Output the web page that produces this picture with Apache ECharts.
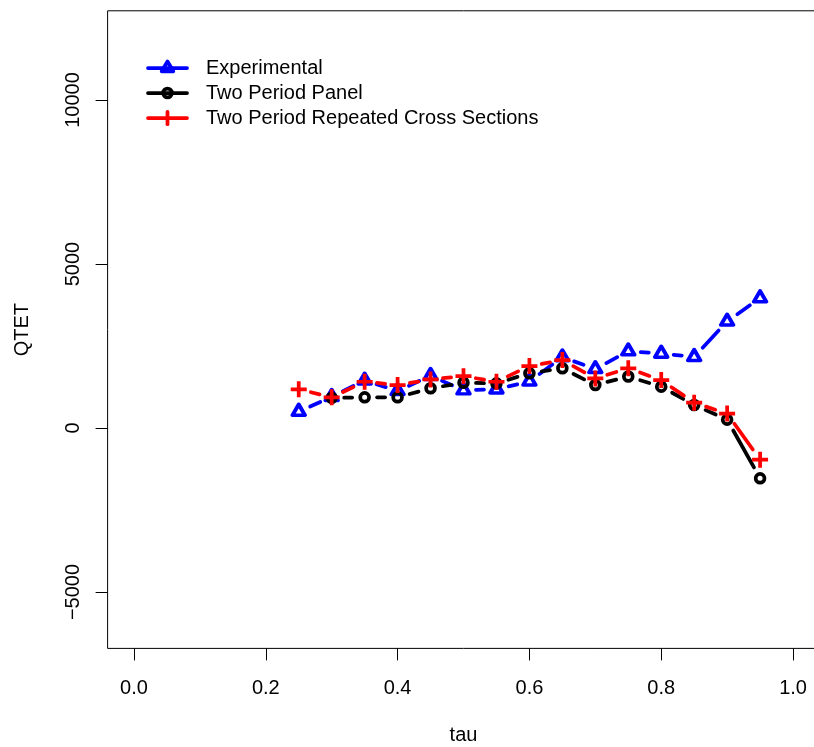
<!DOCTYPE html>
<html><head><meta charset="utf-8">
<script src="https://cdn.jsdelivr.net/npm/echarts@6/dist/echarts.min.js"></script>
<style>html,body{margin:0;padding:0;background:#fff;overflow:hidden}#c{width:830px;height:747px}</style>
</head><body><div id="c"></div>
<script>
// ---- data ----
const tau = [0.25, 0.30, 0.35, 0.40, 0.45, 0.50, 0.55, 0.60, 0.65, 0.70, 0.75, 0.80, 0.85, 0.90, 0.95];
const experimental = [500, 950, 1450, 1130, 1590, 1150, 1180, 1420, 2160, 1800, 2340, 2270, 2170, 3250, 3960];
const panel = [null, 920, 935, 935, 1210, 1380, 1360, 1670, 1820, 1310, 1570, 1260, 700, 255, -1535];
const rcs = [1180, 935, 1410, 1310, 1480, 1580, 1410, 1890, 2070, 1510, 1820, 1460, 770, 440, -965];
const xTicks = [0, 0.2, 0.4, 0.6, 0.8, 1.0];
const yTicks = [-5000, 0, 5000, 10000];
const seriesNames = ['Experimental', 'Two Period Panel', 'Two Period Repeated Cross Sections'];
const colors = ['#0000FF', '#000000', '#FF0000'];
const xTitle = 'tau';
const yTitle = 'QTET';

// ---- style ----
const FONT = 'Liberation Sans, Arial, Helvetica, sans-serif';
const LW = 3.75, GAP = 12.5;

function pairs(vals) { return tau.map((t, i) => [t, vals[i]]).filter(p => p[1] != null); }
function segments(vals) {
  const p = pairs(vals), s = [];
  for (let i = 0; i < p.length - 1; i++) s.push([p[i][0], p[i][1], p[i + 1][0], p[i + 1][1]]);
  return s;
}
function segSeries(vals, color) {
  return {
    type: 'custom', coordinateSystem: 'cartesian2d', silent: true,
    data: segments(vals), encode: { x: [0, 2], y: [1, 3] },
    renderItem: (params, api) => {
      const a = api.coord([api.value(0), api.value(1)]);
      const b = api.coord([api.value(2), api.value(3)]);
      const dx = b[0] - a[0], dy = b[1] - a[1], L = Math.hypot(dx, dy);
      if (L <= 2 * GAP) return null;
      const f = GAP / L;
      return {
        type: 'line',
        shape: { x1: a[0] + f * dx, y1: a[1] + f * dy, x2: b[0] - f * dx, y2: b[1] - f * dy },
        style: { stroke: color, lineWidth: LW, lineCap: 'round' }
      };
    }
  };
}
const PLUS = 'path://M-0.234,-1H0.234V1H-0.234Z M-1,-0.234H1V0.234H-1Z';

const series = [
  segSeries(experimental, colors[0]),
  { type: 'scatter', name: seriesNames[0], data: pairs(experimental), silent: true,
    symbol: 'triangle', symbolSize: [12.5, 10.8], symbolOffset: [0, -1.8],
    itemStyle: { color: 'transparent', borderColor: colors[0], borderWidth: LW, borderJoin: 'round', opacity: 1 } },
  segSeries(panel, colors[1]),
  { type: 'scatter', name: seriesNames[1], data: pairs(panel), silent: true,
    symbol: 'circle', symbolSize: 8.8,
    itemStyle: { color: 'transparent', borderColor: colors[1], borderWidth: LW, opacity: 1 } },
  segSeries(rcs, colors[2]),
  { type: 'scatter', name: seriesNames[2], data: pairs(rcs), silent: true,
    symbol: PLUS, symbolSize: 16,
    itemStyle: { color: colors[2], borderWidth: 0, opacity: 1 } }
];

// legend drawn as graphic (R-style legend, no box)
const legX1 = 148, legX2 = 187, legSym = 167.5, legText = 206, legY = [68, 93, 118];
const graphic = [];
legY.forEach((y, i) => {
  graphic.push({ type: 'line', shape: { x1: legX1, y1: y, x2: legX2, y2: y }, style: { stroke: colors[i], lineWidth: LW, lineCap: 'round' } });
  graphic.push({ type: 'text', x: legText, y: y, style: { text: seriesNames[i], font: '20px ' + FONT, fill: '#000', verticalAlign: 'middle', align: 'left' } });
});
graphic.push({ type: 'polygon', shape: { points: [[legSym, legY[0] - 6.5], [legSym + 5.8, legY[0] + 3.3], [legSym - 5.8, legY[0] + 3.3]] },
  style: { fill: 'none', stroke: colors[0], lineWidth: LW, lineJoin: 'round' } });
graphic.push({ type: 'circle', shape: { cx: legSym, cy: legY[1], r: 4.4 }, style: { fill: 'none', stroke: colors[1], lineWidth: LW } });
graphic.push({ type: 'line', shape: { x1: legSym, y1: legY[2] - 6.2, x2: legSym, y2: legY[2] + 6.2 }, style: { stroke: colors[2], lineWidth: LW, lineCap: 'round' } });

const chart = echarts.init(document.getElementById('c'), null, { renderer: 'canvas' });
chart.setOption({
  animation: false,
  backgroundColor: '#fff',
  textStyle: { fontFamily: FONT },
  grid: { show: true, left: 107.6, top: 10.8, width: 711.8, height: 637.6, borderColor: '#000', borderWidth: 1, backgroundColor: 'transparent', containLabel: false, outerBoundsMode: 'none' },
  xAxis: {
    type: 'value', min: -0.04, max: 1.04,
    axisLine: { show: false, onZero: false }, splitLine: { show: false },
    axisTick: { show: true, customValues: xTicks, length: 12, lineStyle: { color: '#000', width: 1 } },
    axisLabel: { show: true, customValues: xTicks, formatter: v => v.toFixed(1), fontSize: 20, color: '#000', margin: 30, fontFamily: FONT },
    name: xTitle, nameLocation: 'middle', nameGap: 77, nameTextStyle: { fontSize: 20, color: '#000', fontFamily: FONT }
  },
  yAxis: {
    type: 'value', min: -6720, max: 12720,
    axisLine: { show: false, onZero: false }, splitLine: { show: false },
    axisTick: { show: true, customValues: yTicks, length: 12, lineStyle: { color: '#000', width: 1 } },
    axisLabel: { show: true, customValues: yTicks, rotate: 90, formatter: v => (v < 0 ? '\u2212' + Math.abs(v) : String(v)), fontSize: 20, color: '#000', margin: 24, fontFamily: FONT },
    name: yTitle, nameLocation: 'middle', nameRotate: 90, nameGap: 75, nameTextStyle: { fontSize: 20, color: '#000', fontFamily: FONT }
  },
  graphic: graphic,
  series: series
});
</script>
</body></html>
